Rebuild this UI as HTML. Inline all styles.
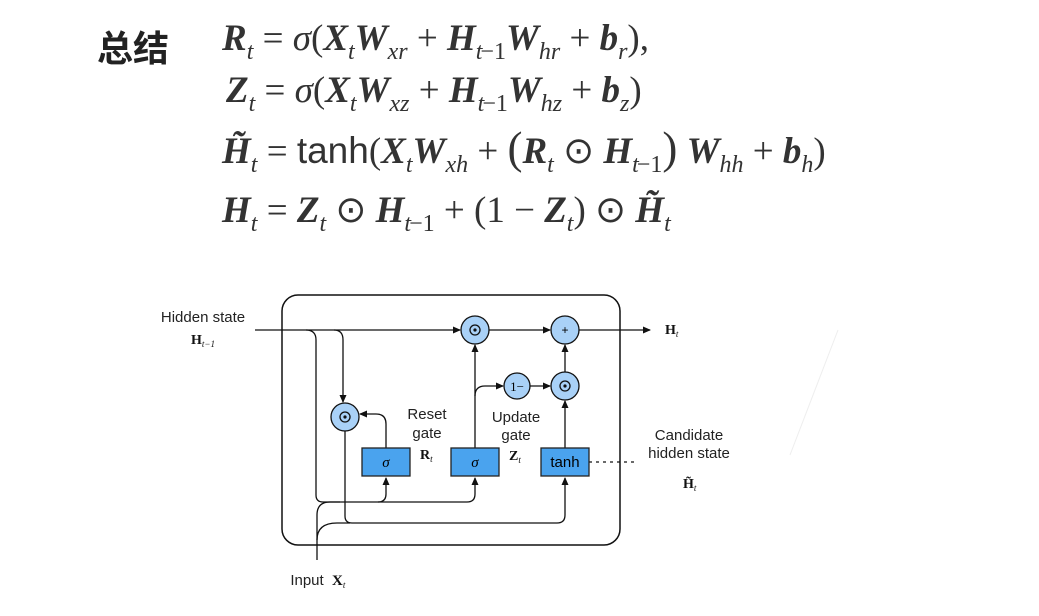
<!DOCTYPE html>
<html><head><meta charset="utf-8"><style>
body{margin:0;width:1039px;height:616px;background:#fff;overflow:hidden;position:relative;font-family:"Liberation Sans",sans-serif}
.eq{position:absolute;font-family:"Liberation Serif",serif;font-size:37px;line-height:37px;color:#333;white-space:nowrap;font-weight:bold}
.eq i{font-style:italic}
.eq sub{font-size:24px;font-weight:normal;font-style:italic;vertical-align:-9px;line-height:0}
.n{font-weight:normal}
.big{font-size:45px;line-height:0}
</style></head><body>
<div style="position:absolute;left:97px;top:20px;font:bold 36px 'Noto Sans CJK SC',sans-serif;color:#222">总结</div>
<div class="eq" style="left:222px;top:20px"><i>R<sub>t</sub></i> <span class="n">= <i>σ</i>(</span><i>X<sub>t</sub>W<sub>xr</sub></i> <span class="n">+</span> <i>H<sub>t</sub></i><sub class="n" style="font-style:normal;margin-left:-2px">−1</sub><i>W<sub>hr</sub></i> <span class="n">+</span> <i>b<sub>r</sub></i><span class="n">),</span></div>
<div class="eq" style="left:226px;top:72px"><i>Z<sub>t</sub></i> <span class="n">= <i>σ</i>(</span><i>X<sub>t</sub>W<sub>xz</sub></i> <span class="n">+</span> <i>H<sub>t</sub></i><sub class="n" style="font-style:normal;margin-left:-2px">−1</sub><i>W<sub>hz</sub></i> <span class="n">+</span> <i>b<sub>z</sub></i><span class="n">)</span></div>
<div class="eq" style="left:222px;top:132px"><i>H̃<sub>t</sub></i> <span class="n">= <span style="font-family:'Liberation Sans'">tanh</span>(</span><i>X<sub>t</sub>W<sub>xh</sub></i> <span class="n">+ <span class="big">(</span></span><i>R<sub>t</sub></i> <span class="n">⊙</span> <i>H<sub>t</sub></i><sub class="n" style="font-style:normal;margin-left:-2px">−1</sub><span class="n big">)</span> <i>W<sub>hh</sub></i> <span class="n">+</span> <i>b<sub>h</sub></i><span class="n">)</span></div>
<div class="eq" style="left:222px;top:192px"><i>H<sub>t</sub></i> <span class="n">=</span> <i>Z<sub>t</sub></i> <span class="n">⊙</span> <i>H<sub>t</sub></i><sub class="n" style="font-style:normal;margin-left:-2px">−1</sub> <span class="n">+ (1 −</span> <i>Z<sub>t</sub></i><span class="n">) ⊙</span> <i>H̃<sub>t</sub></i></div>

<svg width="1039" height="616" style="position:absolute;left:0;top:0" font-family="Liberation Sans">
<defs><marker id="a" markerWidth="8" markerHeight="8" refX="7" refY="4" orient="auto" markerUnits="userSpaceOnUse"><path d="M0,0.5 L8,4 L0,7.5 z" fill="#111"/></marker></defs>
<line x1="838" y1="330" x2="790" y2="455" stroke="#eee" stroke-width="1"/>
<rect x="282" y="295" width="338" height="250" rx="16" fill="none" stroke="#111" stroke-width="1.5"/>
<g fill="none" stroke="#111" stroke-width="1.3">
<path d="M255,330 H460" marker-end="url(#a)"/>
<path d="M489,330 H550" marker-end="url(#a)"/>
<path d="M579,330 H650" marker-end="url(#a)"/>
<path d="M306,330 q10,0 10,10 V495 q0,7 7,7 H378 q8,0 8,-8 V478" marker-end="url(#a)"/>
<path d="M378,502 H467 q8,0 8,-8 V478" marker-end="url(#a)"/>
<path d="M334,330 q9,0 9,10 V402" marker-end="url(#a)"/>
<path d="M345,431 V516 q0,7 7,7 H557 q8,0 8,-8 V478" marker-end="url(#a)"/>
<path d="M317,560 V515 q0,-13 13,-13 H340"/>
<path d="M317,540 q0,-17 20,-17 H350"/>
<path d="M386,448 V424 q0,-10 -10,-10 H360" marker-end="url(#a)"/>
<path d="M475,448 V345" marker-end="url(#a)"/>
<path d="M475,396 q0,-10 10,-10 H503" marker-end="url(#a)"/>
<path d="M530,386 H550" marker-end="url(#a)"/>
<path d="M565,448 V401" marker-end="url(#a)"/>
<path d="M565,372 V345" marker-end="url(#a)"/>
<path d="M589,462 H636" stroke-dasharray="3,4"/>
</g>
<g fill="#a9d1f7" stroke="#111" stroke-width="1.3">
<circle cx="475" cy="330" r="14"/><circle cx="565" cy="330" r="14"/>
<circle cx="517" cy="386" r="13"/><circle cx="565" cy="386" r="14"/><circle cx="345" cy="417" r="14"/>
</g>
<g fill="none" stroke="#111" stroke-width="1.3"><circle cx="475" cy="330" r="5"/><circle cx="565" cy="386" r="5"/><circle cx="345" cy="417" r="5"/></g>
<g fill="#111"><circle cx="475" cy="330" r="1.6"/><circle cx="565" cy="386" r="1.6"/><circle cx="345" cy="417" r="1.6"/></g>
<text x="565" y="334" font-size="12" text-anchor="middle">+</text>
<text x="517" y="391" font-size="13" text-anchor="middle" font-family="Liberation Serif">1−</text>
<g fill="#4aa3ee" stroke="#222" stroke-width="1.3">
<rect x="362" y="448" width="48" height="28"/><rect x="451" y="448" width="48" height="28"/><rect x="541" y="448" width="48" height="28"/>
</g>
<text x="386" y="467" font-size="15" font-style="italic" text-anchor="middle" font-family="Liberation Serif">σ</text>
<text x="475" y="467" font-size="15" font-style="italic" text-anchor="middle" font-family="Liberation Serif">σ</text>
<text x="565" y="467" font-size="15" text-anchor="middle">tanh</text>
<g font-size="15" fill="#222" text-anchor="middle">
<text x="203" y="322">Hidden state</text>
<text x="427" y="419">Reset</text><text x="427" y="438">gate</text>
<text x="516" y="422">Update</text><text x="516" y="440">gate</text>
<text x="689" y="440">Candidate</text><text x="689" y="458">hidden state</text>
<text x="307" y="585">Input</text>
</g>
<g font-family="Liberation Serif" font-weight="bold" font-size="14" fill="#111">
<text x="191" y="344">H<tspan font-size="9" font-weight="normal" font-style="italic" dy="3">t−1</tspan></text>
<text x="665" y="334">H<tspan font-size="9" font-style="italic" font-weight="normal" dy="3">t</tspan></text>
<text x="420" y="459">R<tspan font-size="9" font-style="italic" font-weight="normal" dy="3">t</tspan></text>
<text x="509" y="460">Z<tspan font-size="9" font-style="italic" font-weight="normal" dy="3">t</tspan></text>
<text x="683" y="488">H̃<tspan font-size="9" font-style="italic" font-weight="normal" dy="3">t</tspan></text>
<text x="332" y="585" font-size="15">X<tspan font-size="9" font-style="italic" font-weight="normal" dy="3">t</tspan></text>
</g>
</svg>
</body></html>
